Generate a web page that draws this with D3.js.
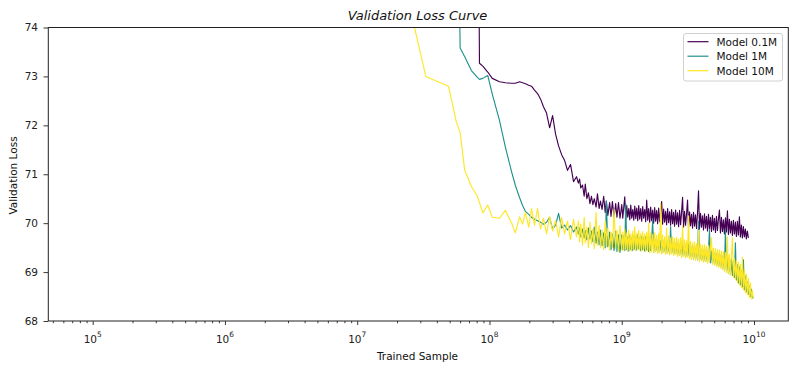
<!DOCTYPE html>
<html><head><meta charset="utf-8">
<script src="https://cdn.jsdelivr.net/npm/d3@7"></script>
<style>
body{margin:0;background:#fff;}
svg{display:block;font-family:"DejaVu Sans",sans-serif;}
</style>
</head><body>
<svg id="chart" width="797" height="371"></svg>
<script>
// ---- data (trained samples in millions, validation loss) ----
const trainedSamplesM = [
 24, 33, 49, 56, 60, 65, 73, 81, 84, 89, 97, 105, 119, 132, 147, 157, 169,
 178, 187, 198, 208, 219, 231, 243, 256, 270, 285, 300, 316, 333, 351, 370, 389, 410, 432, 455,
 470, 480, 490, 505, 520, 530, 545, 560, 575, 590, 605, 620, 640, 655, 675, 690, 710, 730, 750, 765, 785, 810, 830, 850, 875, 900, 920, 945, 970,
 1000, 1018, 1036, 1054, 1072, 1091, 1110, 1130, 1150, 1170,
 1190, 1211, 1232, 1254, 1276, 1298, 1321, 1344, 1367, 1391,
 1415, 1440, 1465, 1491, 1517, 1544, 1571, 1598, 1626, 1655,
 1684, 1713, 1743, 1774, 1805, 1836, 1868, 1901, 1934, 1968,
 2003, 2038, 2073, 2110, 2146, 2184, 2222, 2261, 2301, 2341,
 2382, 2424, 2466, 2509, 2553, 2598, 2643, 2690, 2737, 2785,
 2833, 2883, 2933, 2985, 3037, 3090, 3144, 3199, 3255, 3312,
 3370, 3429, 3489, 3550, 3612, 3676, 3740, 3806, 3872, 3940,
 4009, 4079, 4151, 4223, 4297, 4372, 4449, 4527, 4606, 4687,
 4769, 4852, 4937, 5024, 5112, 5201, 5292, 5385, 5479, 5575,
 5673, 5772, 5873, 5976, 6080, 6187, 6295, 6405, 6517, 6631,
 6747, 6866, 6986, 7108, 7233, 7359, 7488, 7619, 7753, 7888,
 8027, 8167, 8310, 8456, 8604, 8754, 8907, 9063, 9222, 9384,
 9548, 9715, 9870
];

const lossModel01M = [
 null, null, null, null, null, null, null, 80, 73.27, 73.21, 73.09, 72.96, 72.89, 72.87, 72.86, 72.86, 72.89,
 72.87, 72.85, 72.82, 72.80, 72.72, 72.65, 72.54, 72.38, 72.25, 71.95, 72.20, 71.82, 71.58, 71.40, 71.28, 71.08, 71.20, 70.85, 70.95,
 70.82, 70.90, 70.72, 70.78, 70.55, 70.80, 70.50, 70.62, 70.40, 70.55, 70.38, 70.50, 70.33, 70.60, 70.30, 70.45, 70.28, 70.55, 70.22, 70.45, 70.16, 70.42, 70.14, 70.44, 70.12, 70.40, 70.12, 70.42, 70.10,
 70.38, 70.10, 70.33, 70.54, 70.08, 70.36, 70.12, 70.30, 70.07, 70.37,
 70.10, 70.28, 70.06, 70.35, 70.09, 70.31, 70.05, 70.36, 70.08, 70.30,
 70.04, 70.34, 70.10, 70.28, 70.03, 70.47, 70.06, 70.30, 70.02, 70.33,
 70.05, 70.27, 70.00, 70.32, 70.04, 70.26, 69.99, 70.31, 70.03, 70.25,
 70.44, 69.98, 70.29, 70.02, 70.24, 69.97, 70.30, 70.01, 70.23, 69.96,
 70.28, 69.99, 70.22, 69.94, 70.27, 69.98, 70.21, 69.93, 70.26, 69.97,
 70.22, 70.53, 69.92, 70.24, 69.96, 70.19, 70.47, 69.91, 70.23, 69.95,
 70.18, 69.90, 70.22, 69.94, 70.17, 69.89, 70.21, 70.66, 69.88, 70.20,
 69.92, 70.15, 69.86, 70.19, 69.90, 70.14, 69.84, 70.18, 69.88, 70.12,
 69.83, 70.16, 69.86, 70.10, 69.81, 70.14, 69.85, 70.09, 70.27, 69.80,
 70.12, 69.83, 70.07, 69.78, 70.11, 69.82, 70.25, 69.77, 70.08, 69.80,
 70.04, 69.75, 70.06, 69.78, 70.02, 69.73, 70.04, 69.76, 70.13, 69.72,
 69.96, 69.70, 69.93, 69.72, 69.88, 69.68, 69.84, 69.70, null, null,
 null, null, null
];

const lossModel1M = [
 null, null, null, 80, 73.58, 73.40, 73.12, 72.98, 72.94, 72.96, 73.02, 72.64, 72.10, 71.55, 71.05, 70.77, 70.52,
 70.36, 70.24, 70.18, 70.12, 70.08, 70.05, 70.02, 69.98, 70.02, 70.12, 69.88, 69.96, 70.20, 69.90, 69.96, 69.86, 69.95, 69.82, 69.92,
 69.78, 69.90, 69.72, 69.88, 69.70, 69.85, 69.66, 69.90, 69.68, 69.84, 69.62, 69.92, 69.59, 69.82, 69.56, 69.86, 69.54, 69.80, 69.50, 70.45, 69.52, 69.82, 69.46, 69.78, 69.44, 69.84, 69.42, 69.76, 69.40,
 69.76, 69.46, 69.74, 69.44, 70.40, 69.46, 69.72, 69.43, 69.75, 69.46,
 69.70, 69.44, 69.74, 69.47, 69.72, 69.45, 69.76, 69.48, 69.70, 69.44,
 69.73, 69.46, 69.70, 69.43, 69.72, 69.45, 69.68, 69.42, 69.71, 69.44,
 69.66, 70.06, 69.41, 69.69, 69.43, 69.65, 69.40, 69.68, 69.42, 69.64,
 69.39, 69.66, 69.41, 69.62, 69.38, 69.65, 69.40, 69.60, 69.37, 69.93,
 69.39, 69.62, 69.36, 69.60, 69.38, 69.63, 69.34, 69.58, 69.36, 69.61,
 69.32, 69.57, 69.34, 69.59, 69.30, 69.55, 69.33, 69.58, 69.29, 69.54,
 69.30, 69.53, 69.27, 69.55, 69.28, 69.50, 69.25, 70.03, 69.24, 69.49,
 69.25, 69.47, 69.22, 69.48, 69.23, 69.45, 69.20, 69.46, 69.86, 69.19,
 69.43, 69.18, 69.42, 69.16, 69.41, 69.14, 69.40, 69.12, 69.38, 69.10,
 69.36, 69.08, 69.35, 69.05, 69.86, 69.02, 69.32, 68.99, 69.30, 68.96,
 69.26, 68.93, 69.22, 68.89, 69.60, 68.84, 69.15, 68.78, 69.10, 68.74,
 69.02, 68.70, 69.25, 68.64, 68.92, 68.60, 68.80, 68.55, 68.72, 68.50,
 68.65, 68.47, 68.50
];

const lossModel10M = [
 74.62, 73.00, 72.80, 72.08, 71.85, 71.08, 70.75, 70.55, 70.42, 70.21, 70.37, 70.12, 70.10, 70.26, 70.00, 69.80, 70.13,
 69.98, 70.22, 69.92, 70.30, 69.96, 70.30, 69.88, 70.10, 69.78, 70.14, 69.84, 70.05, 69.72, 70.12, 69.78, 70.04, 69.66, 70.08, 69.72,
 70.05, 69.62, 69.98, 69.55, 70.12, 69.60, 69.92, 69.50, 70.02, 69.58, 69.88, 69.48, 70.22, 69.55, 69.95, 69.50, 69.86, 69.46, 70.05, 69.52, 69.90, 69.45, 69.82, 69.50, 70.28, 69.48, 69.85, 69.42, 69.95,
 69.45, 69.82, 69.44, 69.88, 69.48, 69.80, 69.42, 69.86, 69.46, 69.78,
 69.43, 69.84, 69.47, 69.92, 69.44, 69.80, 69.46, 69.85, 69.45, 69.79,
 69.43, 69.83, 69.46, 69.78, 69.42, 69.82, 69.44, 70.00, 69.40, 69.80,
 69.41, 69.77, 69.39, 69.81, 69.42, 69.75, 69.38, 69.79, 69.40, 70.40,
 69.37, 69.76, 69.40, 69.72, 69.36, 69.90, 69.38, 69.74, 69.35, 69.70,
 69.37, 69.72, 69.34, 69.69, 69.36, 69.71, 69.32, 69.67, 69.34, 69.70,
 69.30, 69.95, 69.32, 69.66, 69.29, 69.64, 69.31, 70.15, 69.27, 69.63,
 69.26, 69.60, 69.28, 69.62, 69.24, 69.58, 69.26, 69.85, 69.22, 69.57,
 69.23, 69.55, 69.20, 69.56, 69.22, 69.53, 69.18, 69.54, 69.20, 69.50,
 69.70, 69.16, 69.49, 69.14, 69.48, 69.12, 69.46, 69.10, 69.45, 69.08,
 69.43, 69.05, 69.42, 69.02, 69.40, 68.99, 69.72, 68.96, 69.36, 68.94,
 69.33, 69.70, 68.90, 69.28, 68.86, 69.24, 68.80, 69.20, 68.74, 69.16,
 68.68, 69.30, 68.64, 69.05, 68.58, 68.96, 68.54, 68.88, 68.48, 68.78,
 68.45, 68.62, 68.45
];

const seriesNames = ["Model 0.1M", "Model 1M", "Model 10M"];
const yTickValues = [68, 69, 70, 71, 72, 73, 74];
const xTickExponents = [5, 6, 7, 8, 9, 10];
const chartTitle = "Validation Loss Curve";
const xAxisLabel = "Trained Sample";
const yAxisLabel = "Validation Loss";

// ---- styles / layout ----
const seriesColors = ["#440154", "#21918c", "#fde725"];
const W = 797, H = 371;
const plot = {left: 48, right: 788, top: 27.5, bottom: 321};
const xDomain = [4.594e4, 1.807e10];
const yDomain = [68, 74];

const lossArrays = [lossModel01M, lossModel1M, lossModel10M];
lossArrays.forEach((a, i) => {
  if (a.length !== trainedSamplesM.length) throw new Error("length mismatch series " + i + ": " + a.length + " vs " + trainedSamplesM.length);
});

const svg = d3.select("#chart");
svg.append("rect").attr("width", W).attr("height", H).attr("fill", "#fff");

const x = d3.scaleLog().domain(xDomain).range([plot.left, plot.right]);
const y = d3.scaleLinear().domain(yDomain).range([plot.bottom, plot.top]);

const series = seriesNames.map((name, i) => ({
  name, color: seriesColors[i],
  values: trainedSamplesM.map((m, j) => ({x: m * 1e6, y: lossArrays[i][j]})).filter(d => d.y != null)
}));

svg.append("clipPath").attr("id", "clip").append("rect")
  .attr("x", plot.left).attr("y", plot.top)
  .attr("width", plot.right - plot.left).attr("height", plot.bottom - plot.top);

const line = d3.line().x(d => x(d.x)).y(d => y(d.y));
const lines = svg.append("g").attr("clip-path", "url(#clip)");
series.forEach(s => {
  lines.append("path").datum(s.values)
    .attr("fill", "none").attr("stroke", s.color)
    .attr("stroke-width", 1.15).attr("stroke-linejoin", "round")
    .attr("d", line);
});

// axes
const tickColor = "#222";
const majorTicks = xTickExponents.map(e => Math.pow(10, e));
const minorTicks = x.ticks().filter(v => {
  const l = Math.log10(v); return Math.abs(l - Math.round(l)) > 1e-9;
}).filter(v => v >= xDomain[0] && v <= xDomain[1]);

const gxMinor = svg.append("g").attr("transform", `translate(0,${plot.bottom})`)
  .call(d3.axisBottom(x).tickValues(minorTicks).tickSize(2.2).tickFormat(""));
const gxMajor = svg.append("g").attr("transform", `translate(0,${plot.bottom})`)
  .call(d3.axisBottom(x).tickValues(majorTicks).tickSize(4).tickFormat(""));
[gxMinor, gxMajor].forEach(g => {
  g.select(".domain").remove();
  g.selectAll(".tick line").attr("stroke", tickColor).attr("stroke-width", 0.9);
});

const xLabels = svg.append("g");
xTickExponents.forEach(e => {
  const t = xLabels.append("text")
    .attr("x", x(Math.pow(10, e))).attr("y", 343.3)
    .attr("text-anchor", "middle").attr("font-size", 10.5).attr("fill", tickColor);
  t.append("tspan").text("10");
  t.append("tspan").attr("dy", -6.3).attr("font-size", 7.4).text(String(e));
});

const gy = svg.append("g").attr("transform", `translate(${plot.left},0)`)
  .call(d3.axisLeft(y).tickValues(yTickValues).tickSize(4.5).tickPadding(5.5).tickFormat(d3.format("d")));
gy.select(".domain").remove();
gy.selectAll(".tick line").attr("stroke", tickColor).attr("stroke-width", 0.9);
gy.selectAll(".tick text").attr("font-size", 10.5).attr("fill", tickColor)
  .attr("font-family", "DejaVu Sans");

// frame
svg.append("rect")
  .attr("x", plot.left + 0.3).attr("y", plot.top)
  .attr("width", plot.right - plot.left).attr("height", plot.bottom - plot.top)
  .attr("fill", "none").attr("stroke", "#222").attr("stroke-width", 1);

// labels
svg.append("text").attr("x", 417.5).attr("y", 19.5).attr("text-anchor", "middle")
  .attr("font-size", 13).attr("font-style", "italic").attr("fill", "#111").text(chartTitle);
svg.append("text").attr("x", 417.5).attr("y", 360).attr("text-anchor", "middle")
  .attr("font-size", 10.5).attr("fill", "#111").text(xAxisLabel);
svg.append("text").attr("transform", "translate(16.5,175.5) rotate(-90)").attr("text-anchor", "middle")
  .attr("font-size", 10.5).attr("fill", "#111").text(yAxisLabel);

// legend
const lg = svg.append("g");
lg.append("rect").attr("x", 683.5).attr("y", 33.5).attr("width", 99).attr("height", 47.5)
  .attr("rx", 2.5).attr("fill", "#fff").attr("fill-opacity", 0.8)
  .attr("stroke", "#d0d0d0").attr("stroke-width", 1);
series.forEach((s, i) => {
  const ly = 41.7 + i * 14.5;
  lg.append("line").attr("x1", 687.5).attr("x2", 708.5).attr("y1", ly).attr("y2", ly)
    .attr("stroke", s.color).attr("stroke-width", 1.2);
  lg.append("text").attr("x", 716.5).attr("y", ly + 3.8).attr("font-size", 10.5)
    .attr("fill", "#111").text(s.name);
});
</script>
</body></html>
